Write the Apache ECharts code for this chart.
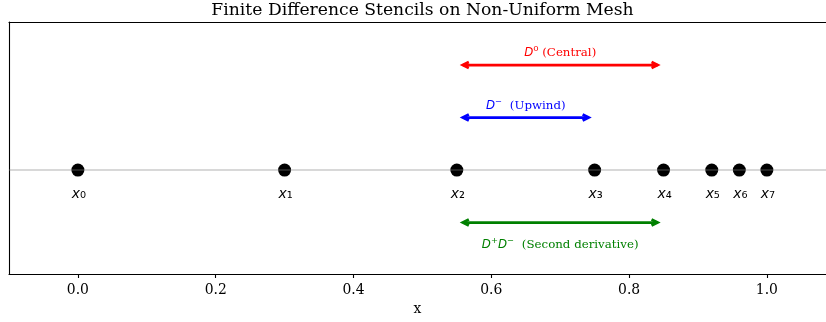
<!DOCTYPE html>
<html>
<head>
<meta charset="utf-8">
<script src="https://cdn.jsdelivr.net/npm/echarts@6/dist/echarts.min.js"></script>
<style>
  html, body { margin: 0; padding: 0; background: #ffffff; }
  #chart { width: 826px; height: 322px; }
</style>
</head>
<body>
<div id="chart"></div>
<script>
// Mesh nodes on the non-uniform grid
const nodeX = [0.0, 0.3, 0.55, 0.75, 0.85, 0.92, 0.96, 1.0];
const nodeSub = ['\u2080', '\u2081', '\u2082', '\u2083', '\u2084', '\u2085', '\u2086', '\u2087'];

// Stencil spans (from node, to node, height) and their labels
const stencilFrom = [0.55, 0.55, 0.55];
const stencilTo = [0.85, 0.75, 0.85];
const stencilY = [1.0, 0.5, -0.5];
const stencilLabelY = [1.12, 0.61, -0.71];
const stencilOp = ['{it|D}{up|\u2070}', '{it|D}{up|\u207B }', '{it|D}{up|\u207A}{it|D}{up|\u207B }'];
const stencilName = ['(Central)', '(Upwind)', '(Second derivative)'];
const stencilColor = ['#ff0000', '#0000ff', '#008000'];

// Axis ticks
const xTicks = [0.0, 0.2, 0.4, 0.6, 0.8, 1.0];

const serif = '"DejaVu Serif", serif';
const sans = '"DejaVu Sans", sans-serif';

const chart = echarts.init(document.getElementById('chart'), null, { renderer: 'canvas' });

// Double-headed arrow spanning one stencil
function arrowItem(params, api) {
  const i = params.dataIndex;
  const a = api.coord([api.value(0), api.value(2)]);
  const b = api.coord([api.value(1), api.value(2)]);
  const shrink = 6;
  const x1 = a[0] + shrink, x2 = b[0] - shrink, y = a[1];
  const hl = 6, hw = 3;
  const color = stencilColor[i];
  const style = { stroke: color, lineWidth: 2.8, fill: null, lineJoin: 'miter', lineCap: 'butt' };
  return {
    type: 'group',
    children: [
      { type: 'line', shape: { x1: x1, y1: y, x2: x2, y2: y }, style: style },
      { type: 'polyline', shape: { points: [[x1 + hl, y - hw], [x1, y], [x1 + hl, y + hw]] }, style: style },
      { type: 'polyline', shape: { points: [[x2 - hl, y - hw], [x2, y], [x2 - hl, y + hw]] }, style: style }
    ]
  };
}

// Operator name above / below each arrow
function textItem(params, api) {
  const i = params.dataIndex;
  const p = api.coord([api.value(0), api.value(1)]);
  const c = stencilColor[i];
  return {
    type: 'text',
    x: p[0], y: p[1],
    style: {
      text: stencilOp[i] + '{rm| ' + stencilName[i] + '}',
      align: 'center',
      verticalAlign: 'middle',
      rich: {
        it: { fontFamily: sans, fontStyle: 'italic', fontSize: 11.8, fill: c, color: c, lineHeight: 16 },
        up: { fontFamily: sans, fontSize: 13.2, fill: c, color: c, lineHeight: 16 },
        rm: { fontFamily: serif, fontSize: 11.8, fill: c, color: c, lineHeight: 16 }
      }
    }
  };
}

const option = {
  animation: false,
  backgroundColor: '#ffffff',
  title: {
    text: 'Finite Difference Stencils on Non-Uniform Mesh',
    left: 417.5,
    textAlign: 'center',
    top: -3,
    textStyle: { fontFamily: serif, fontSize: 17.2, fontWeight: 'normal', color: '#000000' }
  },
  grid: { left: 9, top: 22, right: 0, height: 252, show: false, containLabel: false },
  xAxis: [
    {
      type: 'value',
      position: 'bottom',
      min: -0.1,
      max: 1.0858,
      name: 'x',
      nameLocation: 'middle',
      nameGap: 23,
      nameTextStyle: { fontFamily: serif, fontSize: 13.9, color: '#000000', verticalAlign: 'top' },
      axisLine: { show: true, onZero: false, lineStyle: { color: '#000000', width: 1.1 } },
      axisTick: { show: true, inside: false, length: 4, lineStyle: { color: '#000000', width: 1.1 }, customValues: xTicks },
      axisLabel: {
        show: true, margin: 9, customValues: xTicks,
        fontFamily: serif, fontSize: 13.9, color: '#000000',
        formatter: function (v) { return v.toFixed(1); }
      },
      splitLine: { show: false }
    },
    {
      type: 'value',
      position: 'top',
      min: -0.1,
      max: 1.0858,
      axisLine: { show: true, onZero: false, lineStyle: { color: '#000000', width: 1.1 } },
      axisTick: { show: false },
      axisLabel: { show: false },
      splitLine: { show: false }
    }
  ],
  yAxis: {
    type: 'value',
    min: -0.99,
    max: 1.41,
    position: 'left',
    axisLine: { show: true, onZero: false, lineStyle: { color: '#000000', width: 1.1 } },
    axisTick: { show: false },
    axisLabel: { show: false },
    splitLine: { show: false }
  },
  series: [
    {
      name: 'nodes',
      type: 'scatter',
      z: 2,
      symbol: 'circle',
      symbolSize: 13,
      itemStyle: { color: '#000000', opacity: 1 },
      data: nodeX.map(function (x, i) { return [x, 0, i]; }),
      label: {
        show: true,
        position: 'inside',
        offset: [1, 24],
        formatter: function (p) { return '{x|x}{s|' + nodeSub[p.value[2]] + '}'; },
        rich: {
          x: { fontFamily: sans, fontStyle: 'italic', fontSize: 13.9, color: '#000000', lineHeight: 18 },
          s: { fontFamily: sans, fontSize: 15, color: '#000000', lineHeight: 18 }
        }
      }
    },
    {
      name: 'mesh line',
      type: 'line',
      z: 3,
      symbol: 'none',
      silent: true,
      data: [[-0.1, 0], [1.0858, 0]],
      lineStyle: { color: 'rgba(128,128,128,0.6)', width: 1.1 }
    },
    {
      name: 'stencils',
      type: 'custom',
      z: 4,
      renderItem: arrowItem,
      encode: { x: [0, 1], y: 2 },
      data: stencilFrom.map(function (f, i) { return [f, stencilTo[i], stencilY[i]]; })
    },
    {
      name: 'stencil labels',
      type: 'custom',
      z: 4,
      renderItem: textItem,
      encode: { x: 0, y: 1 },
      data: stencilFrom.map(function (f, i) { return [(f + stencilTo[i]) / 2, stencilLabelY[i]]; })
    }
  ]
};

chart.setOption(option);
</script>
</body>
</html>
